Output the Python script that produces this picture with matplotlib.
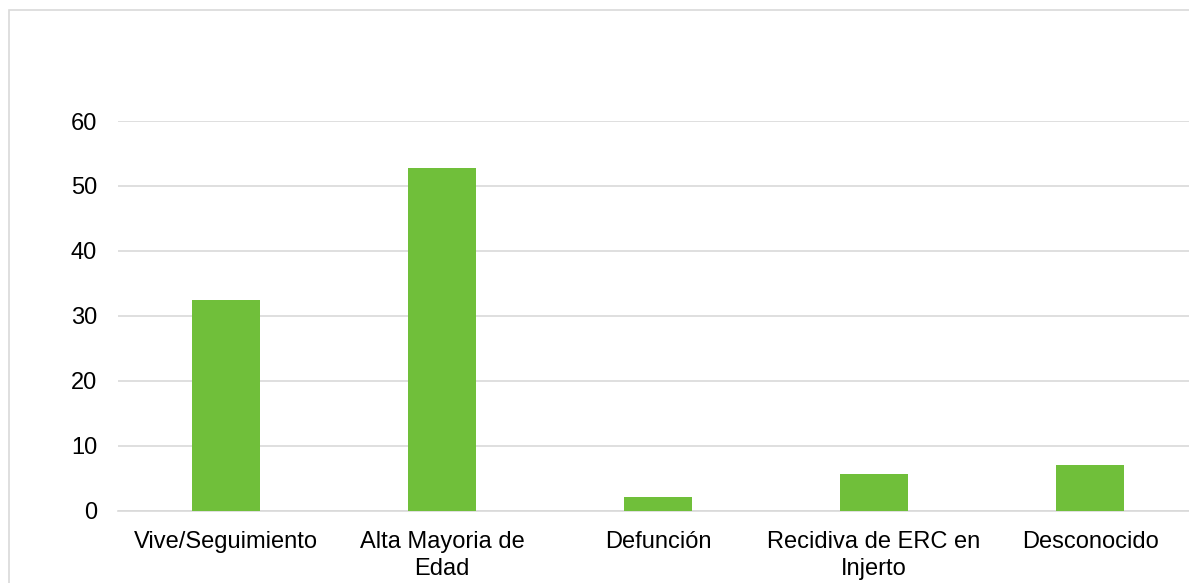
import matplotlib.pyplot as plt
from matplotlib.patches import Rectangle

categories = ["Vive/Seguimiento", "Alta Mayoria de\nEdad", "Defunción",
              "Recidiva de ERC en\nInjerto", "Desconocido"]
values = [32.4, 52.7, 2.1, 5.6, 7.0]
yticks = [0, 10, 20, 30, 40, 50, 60]

plt.rcParams["font.family"] = ["Liberation Sans", "DejaVu Sans"]

W, H = 1189, 583
fig = plt.figure(figsize=(W / 100, H / 100), dpi=100)

# outer chart frame (cropped at right and bottom)
fig.patches.append(Rectangle((9 / W, -0.1), 1.2, (H - 10) / H + 0.1,
                             transform=fig.transFigure, fill=False,
                             edgecolor="#d9d9d9", linewidth=1.2))

left, right = 118, 1198
bottom, top = 510.5, 121
ax = fig.add_axes([left / W, 1 - bottom / H, (right - left) / W, (bottom - top) / H])

ax.bar(range(len(values)), values, width=0.315, color="#70bf3a", zorder=3)
ax.set_xlim(-0.5, len(values) - 0.5)
ax.set_ylim(0, 60)
ax.set_yticks(yticks)
ax.grid(axis="y", color="#d9d9d9", linewidth=1.2, zorder=0)
ax.set_xticks(range(len(values)))
ax.set_xticklabels(categories, fontsize=17, linespacing=1.3)
ax.tick_params(axis="both", length=0, labelsize=17, colors="black")
ax.tick_params(axis="y", pad=15)
ax.tick_params(axis="x", pad=14.5)
for s in ["top", "right", "left"]:
    ax.spines[s].set_visible(False)
ax.spines["bottom"].set_color("#d9d9d9")
ax.spines["bottom"].set_linewidth(1.2)
ax.spines["bottom"].set_zorder(1)
ax.patch.set_alpha(0)

fig.savefig("out.png", dpi=100)
